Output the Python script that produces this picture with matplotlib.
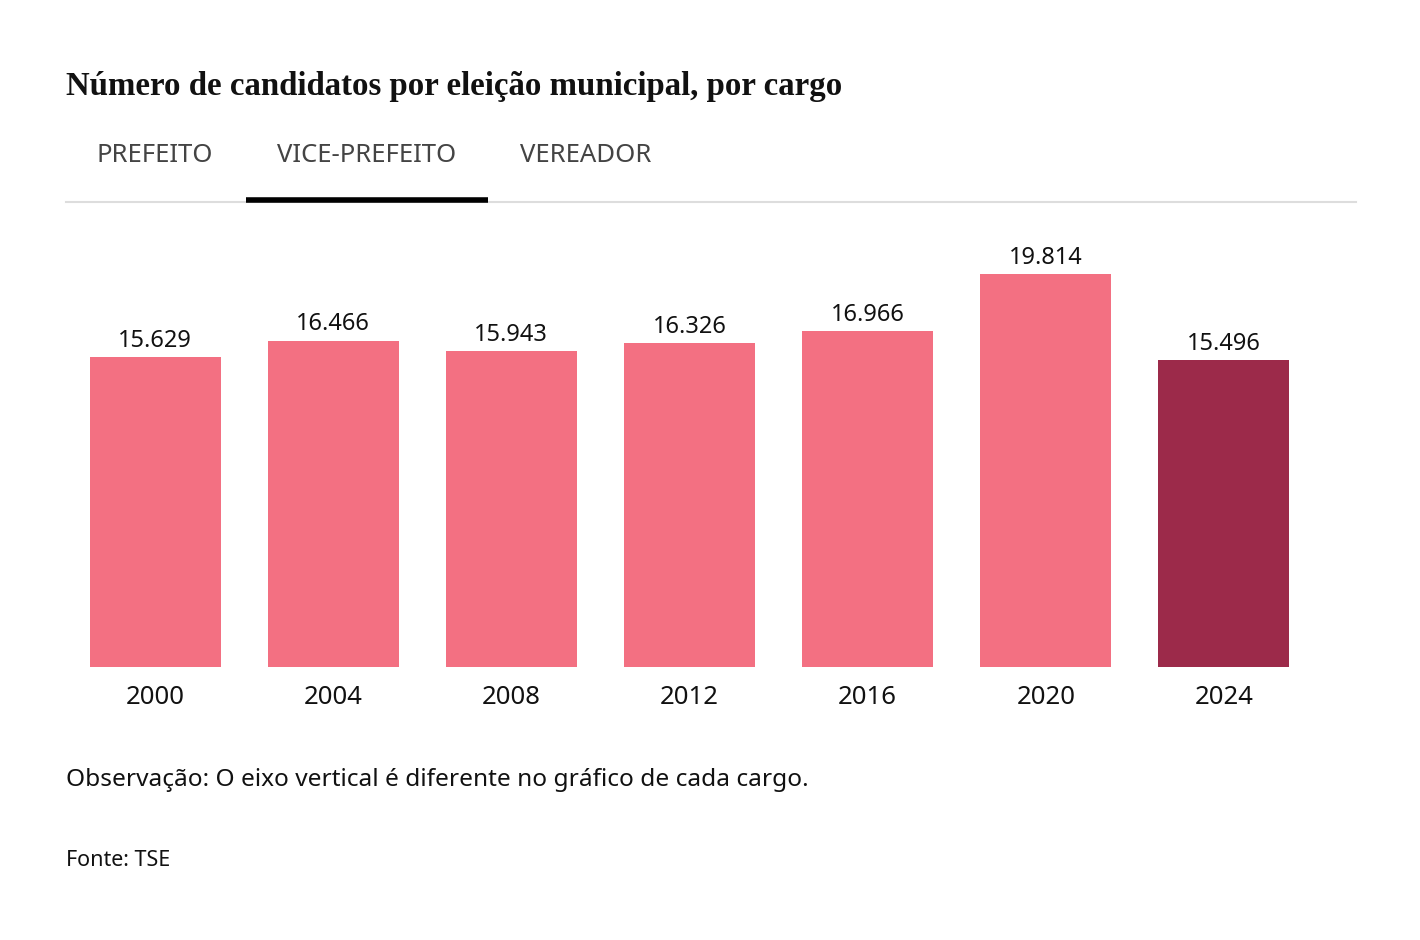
import matplotlib
matplotlib.use('Agg')
import matplotlib.pyplot as plt
from matplotlib.lines import Line2D

# Data
years = ['2000', '2004', '2008', '2012', '2016', '2020', '2024']
candidates = [15629, 16466, 15943, 16326, 16966, 19814, 15496]
tabs = ['PREFEITO', 'VICE-PREFEITO', 'VEREADOR']

PINK = '#f37082'
DARK = '#9c2a4a'
SANS = ['Noto Sans', 'DejaVu Sans']


def fmt(v):
    return f'{v:,}'.replace(',', '.')


def main():
    fig = plt.figure(figsize=(14.2, 9.4), dpi=100)
    W, H = 1420, 940

    # Axes placed in pixel terms: x 66..1313, y 227..667
    ax = fig.add_axes([66 / W, 1 - 667 / H, (1313 - 66) / W, (667 - 227) / H])
    colors = [PINK] * (len(years) - 1) + [DARK]
    x = range(len(years))
    bars = ax.bar(x, candidates, width=0.735, color=colors)
    ax.set_xlim(-0.5, len(years) - 0.5)
    ax.set_ylim(0, 22200)
    for b, v in zip(bars, candidates):
        ax.annotate(fmt(v), (b.get_x() + b.get_width() / 2, v),
                    xytext=(0, 3), textcoords='offset points',
                    ha='center', va='bottom', fontsize=17, family=SANS, color='#111111')
    ax.set_xticks(list(x))
    ax.set_xticklabels(years, fontsize=18.5, family=SANS, color='#111111')
    ax.tick_params(axis='x', length=0, pad=13)
    ax.set_yticks([])
    for s in ax.spines.values():
        s.set_visible(False)

    # Title
    fig.text(66 / W, 1 - 95 / H, 'Número de candidatos por eleição municipal, por cargo',
             fontsize=23.7, fontweight='bold', family=['Liberation Serif', 'DejaVu Serif'],
             color='#111111', ha='left', va='baseline')

    # Tabs
    tab_x = [155, 367, 585.5]
    for t, tx in zip(tabs, tab_x):
        fig.text(tx / W, 1 - 155 / H, t, fontsize=18.5, family=SANS, color='#444444',
                 ha='center', va='center')
    fig.add_artist(Line2D([66 / W, 1356 / W], [1 - 202 / H] * 2, color='#dddddd', lw=1.5))
    fig.add_artist(Line2D([246 / W, 488 / W], [1 - 200 / H] * 2, color='black', lw=4,
                          solid_capstyle='butt'))

    # Notes
    fig.text(66 / W, 1 - 780 / H, 'Observação: O eixo vertical é diferente no gráfico de cada cargo.',
             fontsize=17.6, family=SANS, color='#111111', ha='left', va='center')
    fig.text(66 / W, 1 - 861 / H, 'Fonte: TSE', fontsize=15.5, family=SANS, color='#111111',
             ha='left', va='center')

    fig.savefig('out.png', dpi=100, facecolor='white')


if __name__ == '__main__':
    main()
